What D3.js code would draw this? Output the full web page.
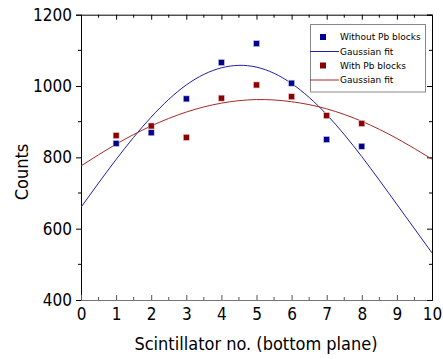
<!DOCTYPE html>
<html><head><meta charset="utf-8">
<script src="https://cdn.jsdelivr.net/npm/d3@7"></script>
<style>
html,body{margin:0;padding:0;background:#fff;}
svg{display:block;}
text{font-family:"DejaVu Sans Condensed","DejaVu Sans",sans-serif;}
</style></head>
<body>
<script>
// ---- data ----
const scintillators = [1, 2, 3, 4, 5, 6, 7, 8];
const withoutPb = [839, 869, 964, 1066, 1119, 1008, 850, 831];
const withPb = [861, 888, 856, 966, 1003, 970, 917, 895];
// Gaussian fit curves at x = 0..10
const fitX = [0, 1, 2, 3, 4, 5, 6, 7, 8, 9, 10];
const fitWithout = [660, 794, 913, 1003, 1051, 1053, 1007, 920, 802, 668, 532];
const fitWith = [776, 837, 888, 927, 952, 962, 956, 936, 901, 853, 795];
const xTicks = [0, 1, 2, 3, 4, 5, 6, 7, 8, 9, 10];
const yTicks = [400, 600, 800, 1000, 1200];
const legendLabels = ["Without Pb blocks", "Gaussian fit", "With Pb blocks", "Gaussian fit"];

const W = 443, H = 359;
const svg = d3.select("body").append("svg").attr("width", W).attr("height", H);

const x = d3.scaleLinear().domain([0, 10]).range([81, 432]);
const y = d3.scaleLinear().domain([400, 1200]).range([300, 14.7]);

const blueM = "#00008c", redM = "#8b0000";
const blueL = "#2020a8", redL = "#a52828";

// axes
const fontTick = "17px";
const gL = svg.append("g").attr("transform", `translate(${x(0)},0)`)
  .call(d3.axisLeft(y).tickValues(yTicks).tickSize(5).tickPadding(4).tickFormat(d3.format("d")));
gL.selectAll("text").style("font-size", fontTick).attr("fill", "#000");
// minor left ticks
svg.append("g").selectAll("line").data([500, 700, 900, 1100]).join("line")
  .attr("x1", x(0) - 3).attr("x2", x(0)).attr("y1", d => y(d)).attr("y2", d => y(d))
  .attr("stroke", "#000");

const gB = svg.append("g").attr("transform", `translate(0,${y(400)})`)
  .call(d3.axisBottom(x).tickValues(xTicks).tickSize(-5).tickPadding(8).tickFormat(d3.format("d")));
gB.selectAll("text").style("font-size", fontTick).attr("fill", "#000").attr("dy", "0.71em");
gB.select(".domain").attr("stroke", "#777");
gB.selectAll(".tick line").attr("stroke", "#555");

const gT = svg.append("g").attr("transform", `translate(0,${y(1200)})`)
  .call(d3.axisTop(x).tickValues(xTicks).tickSize(-5).tickFormat(""));
const gR = svg.append("g").attr("transform", `translate(${x(10)},0)`)
  .call(d3.axisRight(y).tickValues(yTicks).tickSize(-5).tickFormat(""));
// minor ticks
const halfX = xTicks.slice(0, -1).map(d => d + 0.5);
svg.append("g").selectAll("line").data(halfX).join("line")
  .attr("x1", d => x(d)).attr("x2", d => x(d)).attr("y1", y(400)).attr("y2", y(400) - 3).attr("stroke", "#555");
svg.append("g").selectAll("line").data(halfX).join("line")
  .attr("x1", d => x(d)).attr("x2", d => x(d)).attr("y1", y(1200)).attr("y2", y(1200) + 3).attr("stroke", "#000");
svg.append("g").selectAll("line").data([500, 700, 900, 1100]).join("line")
  .attr("x1", x(10)).attr("x2", x(10) - 3).attr("y1", d => y(d)).attr("y2", d => y(d)).attr("stroke", "#000");
[gL, gT, gR].forEach(g => { g.select(".domain").attr("stroke", "#000"); g.selectAll(".tick line").attr("stroke", "#000"); });

// axis titles
svg.append("text").attr("x", 256).attr("y", 350).attr("text-anchor", "middle")
  .style("font-size", "18px").text("Scintillator no. (bottom plane)");
svg.append("text").attr("transform", "translate(28,172) rotate(-90)").attr("text-anchor", "middle")
  .style("font-size", "18px").text("Counts");

// fit curves
const clip = svg.append("clipPath").attr("id", "clip").append("rect")
  .attr("x", x(0)).attr("y", y(1200)).attr("width", x(10) - x(0)).attr("height", y(400) - y(1200));
const line = d3.line().x(d => x(d[0])).y(d => y(d[1])).curve(d3.curveNatural);
svg.append("path").attr("clip-path", "url(#clip)").datum(fitX.map((d, i) => [d, fitWithout[i]]))
  .attr("d", line).attr("fill", "none").attr("stroke", blueL).attr("stroke-width", 1);
svg.append("path").attr("clip-path", "url(#clip)").datum(fitX.map((d, i) => [d, fitWith[i]]))
  .attr("d", line).attr("fill", "none").attr("stroke", redL).attr("stroke-width", 1);

// markers
const ms = 6;
svg.append("g").selectAll("rect").data(scintillators.map((d, i) => [d, withoutPb[i]])).join("rect")
  .attr("x", d => x(d[0]) - ms / 2).attr("y", d => y(d[1]) - ms / 2).attr("width", ms).attr("height", ms)
  .attr("fill", blueM).attr("stroke", "#c8c8e8").attr("stroke-width", 0.6);
svg.append("g").selectAll("rect").data(scintillators.map((d, i) => [d, withPb[i]])).join("rect")
  .attr("x", d => x(d[0]) - ms / 2).attr("y", d => y(d[1]) - ms / 2).attr("width", ms).attr("height", ms)
  .attr("fill", redM).attr("stroke", "#e8c8c8").attr("stroke-width", 0.6);

// legend
const lg = svg.append("g");
lg.append("rect").attr("x", 310.5).attr("y", 24.5).attr("width", 115).attr("height", 67.5)
  .attr("fill", "#fff").attr("stroke", "#888").attr("stroke-width", 1);
const rowsY = [37, 51.5, 65.5, 80];
const kinds = [["m", blueM], ["l", blueL], ["m", redM], ["l", redL]];
kinds.forEach((k, i) => {
  if (k[0] === "m") {
    lg.append("rect").attr("x", 323 - 3).attr("y", rowsY[i] - 3).attr("width", 6).attr("height", 6).attr("fill", k[1]);
  } else {
    lg.append("line").attr("x1", 310).attr("x2", 339).attr("y1", rowsY[i]).attr("y2", rowsY[i])
      .attr("stroke", k[1]).attr("stroke-width", 1);
  }
  lg.append("text").attr("x", 340).attr("y", rowsY[i]).attr("dy", "0.35em")
    .style("font-family", "'DejaVu Sans',sans-serif").style("font-size", "9px").text(legendLabels[i]);
});
</script>
</body></html>
